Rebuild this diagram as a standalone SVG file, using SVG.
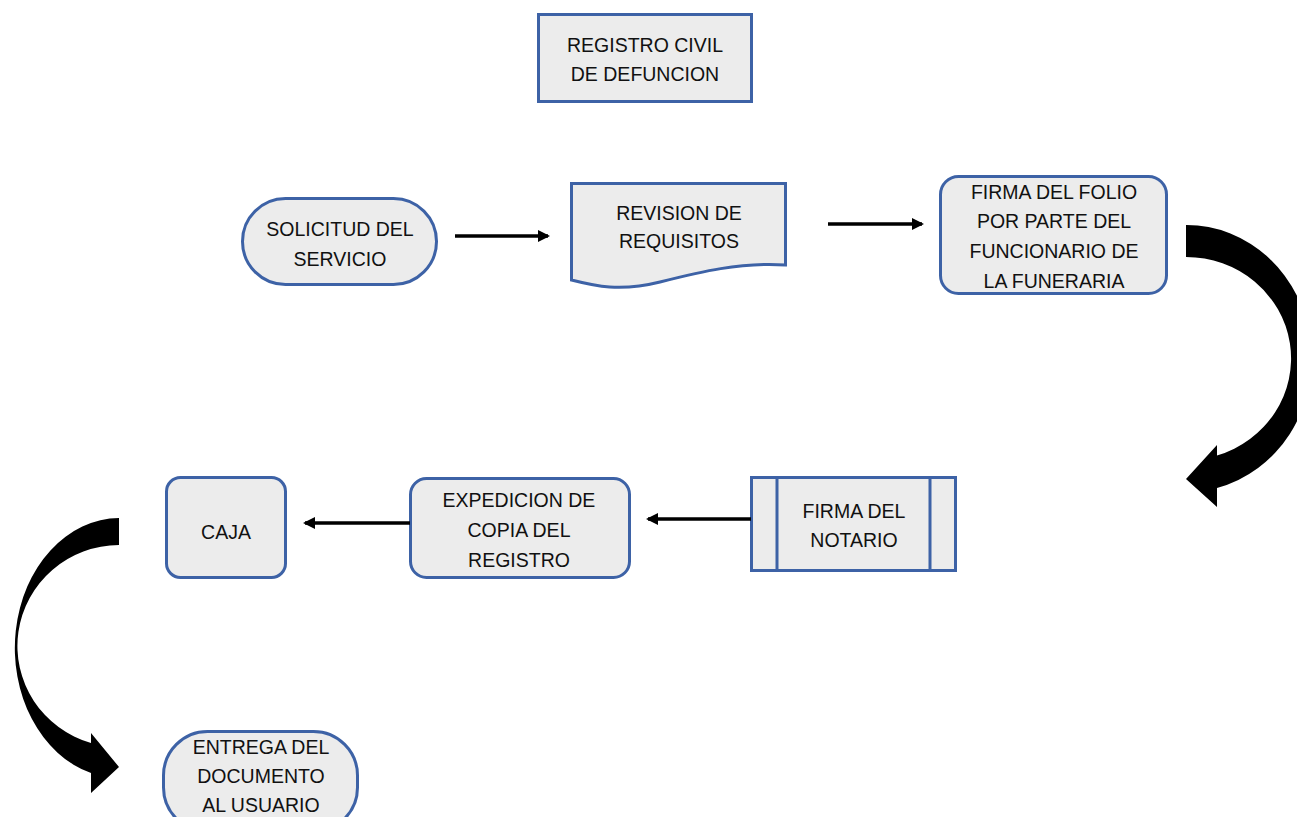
<svg xmlns="http://www.w3.org/2000/svg" width="1297" height="817" viewBox="0 0 1297 817">
<defs>
<style>
.box{fill:#ececec;stroke:#3d62a6;stroke-width:3}
.t{font-family:"Liberation Sans",Arial,sans-serif;font-size:19.5px;fill:#111;text-anchor:middle}
.ln{stroke:#000;stroke-width:3.5;fill:none}
.big{fill:#000}
</style>
<marker id="ah" markerWidth="12" markerHeight="12" refX="10" refY="6" orient="auto" markerUnits="userSpaceOnUse" viewBox="0 0 12 12">
<path d="M0,0 L12,6 L0,12 Z" fill="#000"/>
</marker>
</defs>
<rect width="1297" height="817" fill="#fff"/>
<g id="registro">
<rect class="box" x="538.5" y="14.5" width="213" height="87"/>
<text class="t" x="645" y="52">REGISTRO CIVIL</text>
<text class="t" x="645" y="81">DE DEFUNCION</text>
</g>
<g id="solicitud">
<rect class="box" x="242.5" y="198.5" width="194" height="86" rx="43"/>
<text class="t" x="340" y="236">SOLICITUD DEL</text>
<text class="t" x="340" y="266">SERVICIO</text>
</g>
<g id="revision">
<path class="box" d="M571.5,183.5 L785.5,183.5 L785.5,265 C740,262 700,272 660,282 C620,292 595,286 571.5,280 Z"/>
<text class="t" x="679" y="220">REVISION DE</text>
<text class="t" x="679" y="248">REQUISITOS</text>
</g>
<g id="firma-folio">
<rect class="box" x="940.5" y="176.5" width="226" height="117" rx="18"/>
<text class="t" x="1054" y="199">FIRMA DEL FOLIO</text>
<text class="t" x="1054" y="228">POR PARTE DEL</text>
<text class="t" x="1054" y="258">FUNCIONARIO DE</text>
<text class="t" x="1054" y="288">LA FUNERARIA</text>
</g>
<g id="firma-notario">
<rect class="box" x="751.5" y="477.5" width="204" height="93"/>
<line x1="777" y1="477.5" x2="777" y2="570.5" stroke="#3d62a6" stroke-width="3"/>
<line x1="930" y1="477.5" x2="930" y2="570.5" stroke="#3d62a6" stroke-width="3"/>
<text class="t" x="854" y="518">FIRMA DEL</text>
<text class="t" x="854" y="547">NOTARIO</text>
</g>
<g id="expedicion">
<rect class="box" x="410.5" y="478.5" width="219" height="99" rx="16"/>
<text class="t" x="519" y="507">EXPEDICION DE</text>
<text class="t" x="519" y="537">COPIA DEL</text>
<text class="t" x="519" y="567">REGISTRO</text>
</g>
<g id="caja">
<rect class="box" x="166.5" y="477.5" width="119" height="100" rx="14"/>
<text class="t" x="226" y="539">CAJA</text>
</g>
<g id="entrega">
<rect class="box" x="163.5" y="731.5" width="194" height="100" rx="44"/>
<text class="t" x="261" y="754">ENTREGA DEL</text>
<text class="t" x="261" y="783">DOCUMENTO</text>
<text class="t" x="261" y="812">AL USUARIO</text>
</g>
<g id="connectors">
<line class="ln" x1="455" y1="236" x2="548" y2="236" marker-end="url(#ah)"/>
<line class="ln" x1="828" y1="224" x2="922" y2="224" marker-end="url(#ah)"/>
<line class="ln" x1="751" y1="519" x2="648" y2="519" marker-end="url(#ah)"/>
<line class="ln" x1="410" y1="523" x2="305" y2="523" marker-end="url(#ah)"/>
<path class="big" d="M1186,225 A125,133.5 0 0 1 1217,488 L1217,507 L1186,479 L1217,445 L1217,455.5 A105,101.5 0 0 0 1186,257 Z"/>
<path class="big" d="M119,518 A105,130 0 0 0 91,773 L91,793 L119,767 L91,733 L91,743 A102,101 0 0 1 119,545 Z"/>
</g>
</svg>
